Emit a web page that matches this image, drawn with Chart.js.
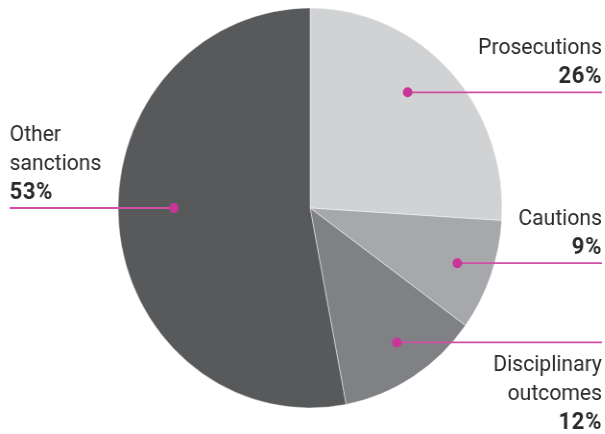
<!DOCTYPE html>
<html lang="en">
<head>
    <meta charset="UTF-8">
    <title>Sanctions pie</title>
    <script src="https://cdn.jsdelivr.net/npm/chart.js"></script>
    <style>
        html, body { margin: 0; padding: 0; background: #fff; overflow: hidden; }
        /* reference is slightly squeezed horizontally */
        #wrap { width: 630px; height: 434px; transform: scaleX(0.96); transform-origin: 0 0; }
    </style>
</head>
<body>
    <div id="wrap"><canvas id="pieChart" width="630" height="434"></canvas></div>
    <script>
        // data
        var categories = [['Prosecutions'], ['Cautions'], ['Disciplinary', 'outcomes'], ['Other', 'sanctions']];
        var values = [26, 9, 12, 53];
        var colours = ['#d1d2d4', '#a7a8ab', '#808184', '#58595b'];

        // label layout: which side, text above/below the line, dot placement
        var side = ['right', 'right', 'right', 'left'];
        var textPos = ['above', 'above', 'below', 'above'];
        var dotAngleShift = [-5.5, 0, -1.5, 5.4];   // degrees
        var dotRadius = [0.77, 0.815, 0.81, 0.71];  // fraction of radius

        var lineColour = '#d04fa3';
        var dotColour = '#c8369a';
        var textColour = '#2a2a2a';
        var fontFamily = 'Roboto, "Open Sans", sans-serif';

        var calloutPlugin = {
            id: 'callouts',
            afterDraw: function (chart) {
                var ctx = chart.ctx;
                var arcs = chart.getDatasetMeta(0).data;
                arcs.forEach(function (arc, i) {
                    var p = arc.getProps(['x', 'y', 'startAngle', 'endAngle', 'outerRadius'], true);
                    var a = (p.startAngle + p.endAngle) / 2 + dotAngleShift[i] * Math.PI / 180;
                    var r = p.outerRadius * dotRadius[i];
                    var dx = p.x + r * Math.cos(a);
                    var dy = p.y + r * Math.sin(a);
                    var edge = side[i] === 'right' ? chart.width - 3 : 10;

                    ctx.save();
                    ctx.strokeStyle = lineColour;
                    ctx.lineWidth = 1.8;
                    ctx.beginPath();
                    ctx.moveTo(dx, dy);
                    ctx.lineTo(edge, dy);
                    ctx.stroke();
                    ctx.fillStyle = dotColour;
                    ctx.beginPath();
                    ctx.arc(dx, dy, 5, 0, Math.PI * 2);
                    ctx.fill();

                    var lines = categories[i].slice();
                    lines.push(values[i] + '%');
                    var lh = 29;
                    var firstBase = textPos[i] === 'above' ? dy - 9 - lh * (lines.length - 1) : dy + 29;
                    ctx.textAlign = side[i] === 'right' ? 'right' : 'left';
                    ctx.textBaseline = 'alphabetic';
                    ctx.fillStyle = textColour;
                    lines.forEach(function (t, k) {
                        var bold = k === lines.length - 1;
                        ctx.font = (bold ? 'bold 23px ' : '22px ') + fontFamily;
                        ctx.letterSpacing = bold ? '0.6px' : '0px';
                        ctx.fillText(t, edge, firstBase + k * lh);
                    });
                    ctx.restore();
                });
            }
        };

        var ctx = document.getElementById('pieChart').getContext('2d');
        var pieChart = new Chart(ctx, {
            type: 'pie',
            data: {
                labels: categories,
                datasets: [{
                    data: values,
                    backgroundColor: colours,
                    borderColor: 'rgba(255,255,255,0.6)',
                    borderWidth: 0.8,
                    radius: 200
                }]
            },
            options: {
                responsive: false,
                animation: false,
                layout: { padding: { top: 8, bottom: 26, left: 123, right: 107 } },
                plugins: {
                    legend: { display: false },
                    tooltip: { enabled: false }
                }
            },
            plugins: [calloutPlugin]
        });
    </script>
</body>
</html>
